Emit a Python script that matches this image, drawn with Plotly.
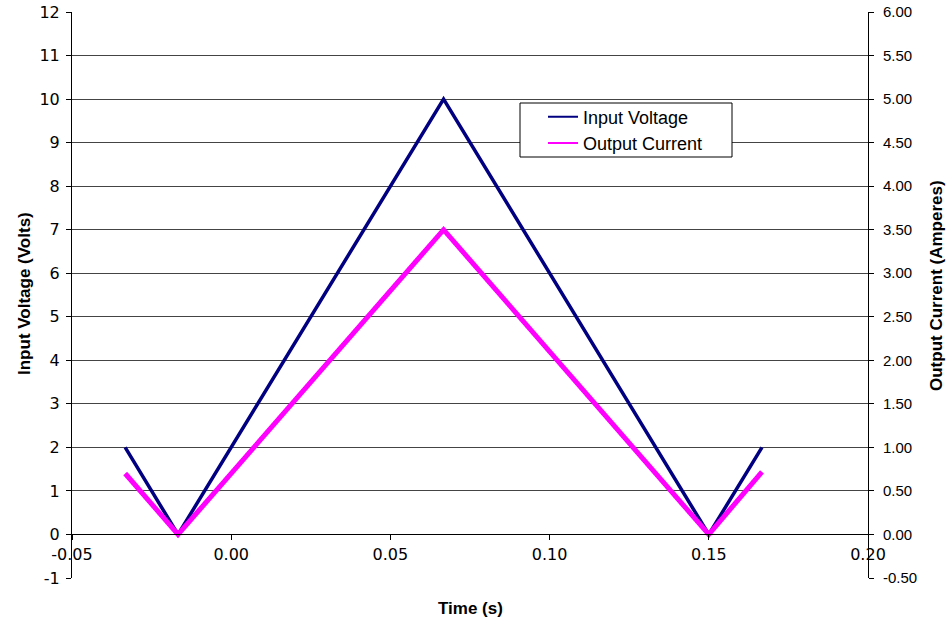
import plotly.graph_objects as go

# Triangle-wave sweep: corner points of the input voltage and output current
time_s = [-0.0333, -0.0167, 0.0667, 0.1500, 0.1667]
input_voltage = [2.0, 0.0, 10.0, 0.0, 2.0]
output_current = [0.70, 0.0, 3.50, 0.0, 0.72]

# Axis tick values and labels
x_ticks = [-0.05, 0.00, 0.05, 0.10, 0.15, 0.20]
x_tick_labels = ["-0.05", "0.00", "0.05", "0.10", "0.15", "0.20"]
y_ticks = list(range(-1, 13))
y_tick_labels = [str(v) for v in y_ticks]
y2_ticks = [-0.5, 0.0, 0.5, 1.0, 1.5, 2.0, 2.5, 3.0, 3.5, 4.0, 4.5, 5.0, 5.5, 6.0]
y2_tick_labels = ["-0.50", "0.00", "0.50", "1.00", "1.50", "2.00", "2.50",
                  "3.00", "3.50", "4.00", "4.50", "5.00", "5.50", "6.00"]

FONT = "Liberation Sans, Arial, sans-serif"
WIDE_FONT = "DejaVu Sans, Verdana, sans-serif"
NAVY = "#000080"
MAGENTA = "#FF00FF"

fig = go.Figure()
fig.add_trace(go.Scatter(
    x=time_s, y=input_voltage, name="Input Voltage", mode="lines",
    line=dict(color=NAVY, width=3.5), showlegend=False,
))
fig.add_trace(go.Scatter(
    x=time_s, y=output_current, name="Output Current", mode="lines",
    yaxis="y2", line=dict(color=MAGENTA, width=5), showlegend=False,
))
# Legend entries drawn with thin key lines
fig.add_trace(go.Scatter(
    x=[None], y=[None], name="Input Voltage", mode="lines",
    line=dict(color=NAVY, width=2), legendgroup="v",
))
fig.add_trace(go.Scatter(
    x=[None], y=[None], name="Output Current", mode="lines",
    line=dict(color=MAGENTA, width=2), legendgroup="c",
))

W, H = 948, 624
L, R, T, B = 72, 80, 12, 46
pw, ph = W - L - R, H - T - B


def px_x(x):
    return (x - L) / pw


def px_y(y):
    return (H - B - y) / ph


fig.update_layout(
    width=W, height=H,
    margin=dict(l=L, r=R, t=T, b=B, pad=0, autoexpand=False),
    paper_bgcolor="white", plot_bgcolor="white",
    font=dict(family=FONT, color="black"),
    xaxis=dict(
        range=[-0.05, 0.20], tickvals=x_ticks, ticktext=x_tick_labels,
        showgrid=False, zeroline=False, showline=True, linecolor="black",
        linewidth=1, ticks="outside", ticklen=5, tickcolor="black",
        anchor="free", position=1 / 13,
        tickfont=dict(family=WIDE_FONT, size=16), automargin=False,
    ),
    yaxis=dict(
        range=[-1, 12], tickvals=y_ticks, ticktext=y_tick_labels,
        showgrid=True, gridcolor="#444444", gridwidth=1, zeroline=False,
        showline=True, linecolor="black", linewidth=1, ticks="outside",
        ticklen=5, tickcolor="black", ticklabelstandoff=3,
        tickfont=dict(family=WIDE_FONT, size=16), automargin=False,
    ),
    yaxis2=dict(
        range=[-0.5, 6.0], tickvals=y2_ticks, ticktext=y2_tick_labels,
        overlaying="y", side="right", showgrid=False, zeroline=False,
        showline=True, linecolor="black", linewidth=1, ticks="outside",
        ticklen=5, tickcolor="black", ticklabelstandoff=6,
        tickfont=dict(size=15), automargin=False,
    ),
    legend=dict(
        x=px_x(543), y=px_y(98.5), xanchor="left", yanchor="top",
        bgcolor="rgba(0,0,0,0)", borderwidth=0, font=dict(size=18),
        itemwidth=30, tracegroupgap=0,
    ),
    shapes=[dict(
        type="rect", xref="paper", yref="paper",
        x0=px_x(520), x1=px_x(732), y0=px_y(157), y1=px_y(103),
        line=dict(color="black", width=1), fillcolor="white", layer="above",
    )],
    annotations=[
        dict(text="<b>Time (s)</b>", xref="paper", yref="paper",
             x=px_x(470), y=px_y(608), xanchor="center", yanchor="middle",
             showarrow=False, font=dict(size=17)),
        dict(text="<b>Input Voltage (Volts)</b>", xref="paper", yref="paper",
             x=px_x(24), y=px_y(294), xanchor="center", yanchor="middle",
             textangle=-90, showarrow=False, font=dict(size=17)),
        dict(text="<b>Output Current (Amperes)</b>", xref="paper", yref="paper",
             x=px_x(936), y=px_y(286), xanchor="center", yanchor="middle",
             textangle=-90, showarrow=False, font=dict(size=17)),
    ],
)

fig.write_html("out.html")
